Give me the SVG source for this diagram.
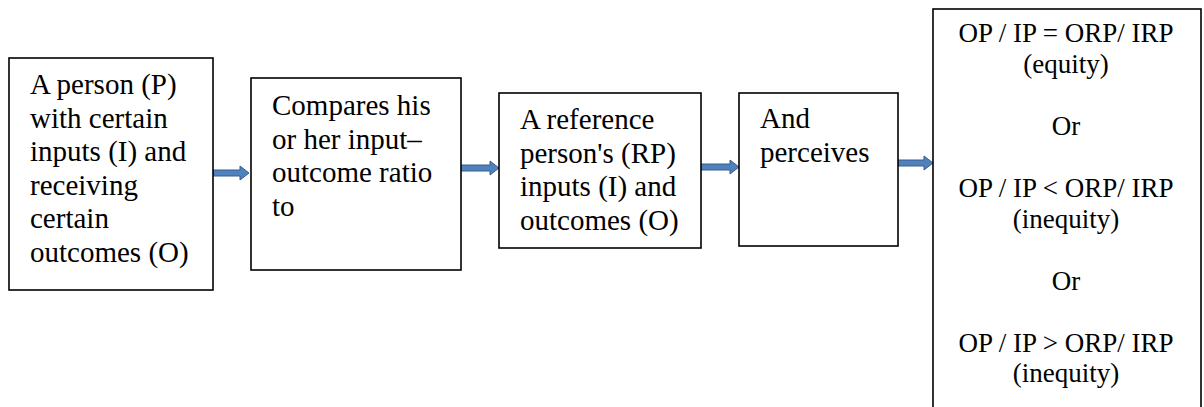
<svg xmlns="http://www.w3.org/2000/svg" width="1204" height="407" viewBox="0 0 1204 407">
<style>
.box{fill:#fff;stroke:#000;stroke-width:1.6}
text{font-family:'Liberation Serif',serif;fill:#000}
.t{font-size:29px}
.c{font-size:27px;text-anchor:middle}
.arr{fill:#4f81bd;stroke:#385d8a;stroke-width:1}
</style>
<rect width="1204" height="407" fill="#fff"/>
<g id="connectors">
<path class="arr" d="M213,170 H240 V166 L249,173 L240,180 V176 H213 Z"/>
<path class="arr" d="M461,165 H490 V161 L499,168 L490,175 V171 H461 Z"/>
<path class="arr" d="M701,164 H730 V160 L739,167 L730,174 V170 H701 Z"/>
<path class="arr" d="M898,160 H924 V156 L933,163 L924,170 V166 H898 Z"/>
</g>
<g id="node1" font-family="Liberation Serif, serif">
<rect class="box" x="9" y="58" width="204" height="232"/>
<text class="t" x="30" y="94">A person (P)</text>
<text class="t" x="30" y="127.5">with certain</text>
<text class="t" x="30" y="161">inputs (I) and</text>
<text class="t" x="30" y="194.5">receiving</text>
<text class="t" x="30" y="228">certain</text>
<text class="t" x="30" y="261.5">outcomes (O)</text>
</g>
<g id="node2" font-family="Liberation Serif, serif">
<rect class="box" x="251" y="78" width="210" height="192"/>
<text class="t" x="272" y="115">Compares his</text>
<text class="t" x="272" y="148.5">or her input–</text>
<text class="t" x="272" y="182">outcome ratio</text>
<text class="t" x="272" y="215.5">to</text>
</g>
<g id="node3" font-family="Liberation Serif, serif">
<rect class="box" x="499" y="93" width="202" height="155"/>
<text class="t" x="520" y="129">A reference</text>
<text class="t" x="520" y="162.5">person's (RP)</text>
<text class="t" x="520" y="196">inputs (I) and</text>
<text class="t" x="520" y="229.5">outcomes (O)</text>
</g>
<g id="node4" font-family="Liberation Serif, serif">
<rect class="box" x="739" y="93" width="159" height="153"/>
<text class="t" x="760" y="128">And</text>
<text class="t" x="760" y="162">perceives</text>
</g>
<g id="node5" font-family="Liberation Serif, serif">
<rect class="box" x="933" y="9" width="268" height="402"/>
<text class="c" x="1066" y="42">OP / IP = ORP/ IRP</text>
<text class="c" x="1066" y="73">(equity)</text>
<text class="c" x="1066" y="135">Or</text>
<text class="c" x="1066" y="197">OP / IP &lt; ORP/ IRP</text>
<text class="c" x="1066" y="228">(inequity)</text>
<text class="c" x="1066" y="290">Or</text>
<text class="c" x="1066" y="352">OP / IP &gt; ORP/ IRP</text>
<text class="c" x="1066" y="382">(inequity)</text>
</g>
</svg>
